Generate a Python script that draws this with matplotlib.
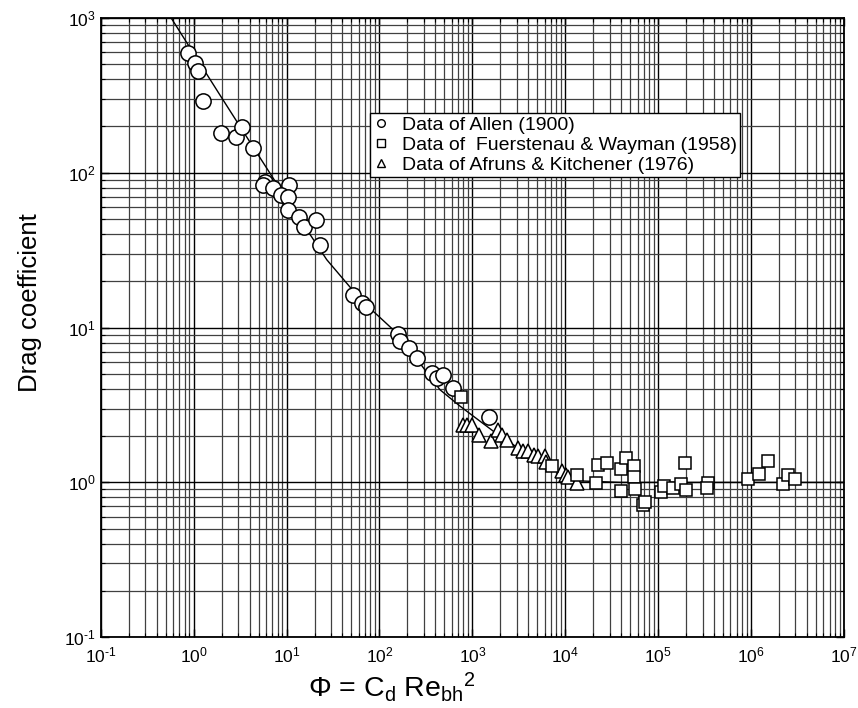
import numpy as np
import matplotlib
matplotlib.use('Agg')
import matplotlib.pyplot as plt
from matplotlib.ticker import LogLocator, FuncFormatter, NullFormatter
from matplotlib.lines import Line2D

plt.rcParams['font.family'] = ['Liberation Sans', 'DejaVu Sans']
plt.rcParams['mathtext.fontset'] = 'custom'
plt.rcParams['mathtext.rm'] = 'Liberation Sans'
plt.rcParams['mathtext.it'] = 'Liberation Sans:italic'
plt.rcParams['mathtext.bf'] = 'Liberation Sans:bold'
plt.rcParams['mathtext.default'] = 'regular'
plt.rcParams['axes.unicode_minus'] = False

# fitted curve
curve_phi = [0.571, 1.92, 4.58, 10.0, 27.1, 63.0, 157, 449, 745, 1754, 3981, 7943, 15850, 39800, 1e7]
curve_cd = [1000, 317, 140, 67.6, 27.4, 15.1, 9.1, 3.96, 3.09, 2.10, 1.51, 1.19, 1.02, 1.0, 1.0]

# Allen (1900)
allen_phi = [0.877, 1.035, 1.12, 1.27, 1.96, 2.84, 3.32, 4.33, 5.88, 5.55, 7.1, 10.6, 8.67,
             10.4, 10.3, 13.6, 15.4, 20.8, 23.0, 51.6, 64.4, 71.7, 157, 167, 208, 256,
             366, 414, 488, 624, 1524]
allen_cd = [594, 513, 455, 290, 180, 169, 198, 144, 87.5, 83.4, 79.3, 83.4, 71.8,
            70.0, 57.4, 52.0, 44.9, 49.6, 34.2, 16.3, 14.5, 13.6, 9.1, 8.13, 7.37, 6.35,
            5.08, 4.72, 4.96, 4.06, 2.64]

# Fuerstenau & Wayman (1958)
fw_phi = [750, 7160, 13300, 21470, 22720, 28390, 39560, 44800, 39560, 55070, 55070,
          56400, 69300, 72300, 107500, 116700, 145900, 176400, 199600, 194500, 346700,
          338500, 935000, 1.23e6, 1.51e6, 2.19e6, 2.48e6, 2.98e6]
fw_cd = [3.56, 1.27, 1.12, 0.99, 1.30, 1.33, 1.22, 1.44, 0.875, 1.27, 1.08,
         0.905, 0.718, 0.743, 0.861, 0.953, 0.920, 0.977, 0.888, 1.33, 0.99,
         0.92, 1.05, 1.13, 1.38, 0.977, 1.12, 1.05]

# Afruns & Kitchener (1976)
ak_phi = [787, 883, 984, 1189, 1577, 1905, 2072, 2344, 3128, 3539, 4009, 4615, 5136,
          6067, 6210, 9162, 10200, 10790, 13490]
ak_cd = [2.36, 2.36, 2.36, 2.03, 1.84, 2.19, 2.03, 1.88, 1.67, 1.585, 1.585, 1.51, 1.47,
         1.47, 1.36, 1.18, 1.12, 1.09, 0.99]

labels = ['Data of Allen (1900)',
          'Data of  Fuerstenau & Wayman (1958)',
          'Data of Afruns & Kitchener (1976)']


def pow10(v, pos):
    e = int(round(np.log10(v)))
    return r'$10^{%s}$' % str(e).replace('-', '\u2010')


fig = plt.figure(figsize=(8.58, 7.08), dpi=100)
ax = fig.add_axes([0.1174, 0.0999, 0.8663, 0.875])
ax.set_xscale('log')
ax.set_yscale('log')
ax.set_xlim(1e-1, 1e7)
ax.set_ylim(1e-1, 1e3)

for a in (ax.xaxis, ax.yaxis):
    a.set_major_locator(LogLocator(base=10, numticks=20))
    a.set_minor_locator(LogLocator(base=10, subs=np.arange(2, 10), numticks=200))
    a.set_major_formatter(FuncFormatter(pow10))
    a.set_minor_formatter(NullFormatter())
ax.grid(which='major', color='k', lw=1.0)
ax.grid(which='minor', color='0.25', lw=0.9)
ax.set_axisbelow(True)
ax.tick_params(which='both', direction='in', top=True, right=True, labelsize=12.5)
ax.tick_params(which='major', length=6, width=1)
ax.tick_params(which='minor', length=3, width=0.8)
ax.tick_params(axis='x', which='major', pad=6)
for s in ax.spines.values():
    s.set_linewidth(1.3)

ax.plot(curve_phi, curve_cd, color='k', lw=1.0, zorder=3)
mk = dict(ls='none', mfc='white', mec='k', mew=1.1, zorder=4)
ax.plot(allen_phi, allen_cd, marker='o', ms=11, **mk)
ax.plot(ak_phi, ak_cd, marker='^', ms=10, **mk)
ax.plot(fw_phi, fw_cd, marker='s', ms=9, **mk)

hk = dict(ls='none', ms=5.5, mfc='white', mec='k', mew=1)
handles = [Line2D([], [], marker='o', **hk),
           Line2D([], [], marker='s', **hk),
           Line2D([], [], marker='^', **hk)]
leg = ax.legend(handles, labels, loc='upper left', bbox_to_anchor=(0.3623, 0.8457),
                borderaxespad=0, fontsize=14, frameon=True, fancybox=False,
                framealpha=1, edgecolor='k', handlelength=0.84, handletextpad=0.66,
                borderpad=0.15, labelspacing=0.12)
leg.get_frame().set_linewidth(1.0)
leg.set_zorder(5)

ax.set_ylabel('Drag coefficient', fontsize=18.5)
ax.yaxis.set_label_coords(-0.079, 0.54)
fig.text(0.457, 0.03, r'$\Phi$ = C$_{d}$ Re$_{bh}$$^{2}$', fontsize=20.5, ha='center', va='center')

fig.savefig('out.png', dpi=100)
